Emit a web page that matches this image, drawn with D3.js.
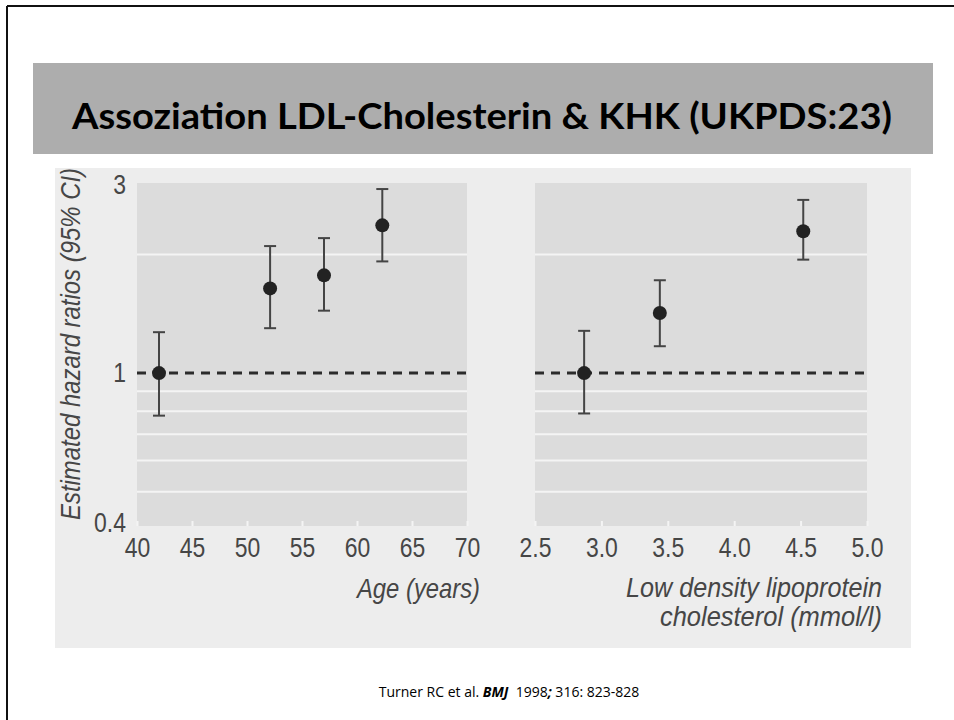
<!DOCTYPE html>
<html>
<head>
<meta charset="utf-8">
<script src="https://cdn.jsdelivr.net/npm/d3@7"></script>
<style>
  html, body { margin: 0; padding: 0; background: #fff; }
  svg { display: block; }
  .scan text { font-family: "Liberation Sans", Arial, sans-serif; fill: #464646; }
</style>
</head>
<body>
<svg id="chart" width="954" height="720"></svg>
<script>
// Age panel: hazard ratio and 95% CI per age group
const ageX = [42, 52.1, 57, 62.3];
const ageHR = [1.0, 1.64, 1.77, 2.37];
const ageLo = [0.78, 1.30, 1.44, 1.92];
const ageHi = [1.27, 2.10, 2.20, 2.93];

// LDL cholesterol panel
const ldlX = [2.87, 3.44, 4.52];
const ldlHR = [1.0, 1.42, 2.29];
const ldlLo = [0.79, 1.17, 1.94];
const ldlHi = [1.28, 1.72, 2.75];

// ticks
const ageTicks = [40, 45, 50, 55, 60, 65, 70];
const ldlTicks = [2.5, 3.0, 3.5, 4.0, 4.5, 5.0];
const yTicks = [0.4, 1, 3];
const gridValues = [0.5, 0.6, 0.7, 0.8, 0.9, 2];

const svg = d3.select("#chart");

// slide frame
svg.append("line").attr("x1", 7).attr("x2", 954).attr("y1", 6).attr("y2", 6)
  .attr("stroke", "#111").attr("stroke-width", 2);
svg.append("line").attr("x1", 7).attr("x2", 7).attr("y1", 6).attr("y2", 720)
  .attr("stroke", "#111").attr("stroke-width", 2);

// title band
svg.append("rect").attr("x", 33).attr("y", 63).attr("width", 900).attr("height", 91)
  .attr("fill", "#adadad");
svg.append("text")
  .attr("x", 482).attr("y", 129)
  .attr("text-anchor", "middle")
  .attr("font-family", "Lato, 'Open Sans', sans-serif")
  .attr("font-weight", 700)
  .attr("font-size", 36)
  .attr("textLength", 820)
  .attr("lengthAdjust", "spacingAndGlyphs")
  .attr("fill", "#000")
  .text("Assoziation LDL-Cholesterin & KHK (UKPDS:23)");

// scanned figure background
const scan = svg.append("g").attr("class", "scan");
scan.append("rect").attr("x", 55).attr("y", 168).attr("width", 856).attr("height", 480)
  .attr("fill", "#ededed");

const y = d3.scaleLog().domain([0.4, 3]).range([530, 185]);
const xAge = d3.scaleLinear().domain([40, 70]).range([137, 467]);
const xLdl = d3.scaleLinear().domain([2.5, 5]).range([535, 867]);

function panel(x, ticks, fmt, xs, hr, lo, hi) {
  const g = scan.append("g");
  const [x0, x1] = x.range();
  const top = y(3) - 2, bottom = y(0.4) - 4;

  g.append("rect").attr("x", x0).attr("y", top)
    .attr("width", x1 - x0).attr("height", bottom - top)
    .attr("fill", "#dcdcdc");

  // white grid lines
  g.selectAll(".grid").data(gridValues).join("line")
    .attr("x1", x0).attr("x2", x1)
    .attr("y1", d => y(d)).attr("y2", d => y(d))
    .attr("stroke", "#f4f4f4").attr("stroke-width", 2);

  // reference line at HR = 1
  g.append("line").attr("x1", x0).attr("x2", x1)
    .attr("y1", y(1)).attr("y2", y(1))
    .attr("stroke", "#2b2b2b").attr("stroke-width", 3)
    .attr("stroke-dasharray", "9,7");

  // x axis
  const ax = g.append("g")
    .attr("transform", "translate(0," + bottom + ")")
    .call(d3.axisBottom(x).tickValues(ticks).tickFormat(fmt)
      .tickSizeInner(-5).tickSizeOuter(0).tickPadding(11));
  ax.select(".domain").remove();
  ax.selectAll("line").attr("stroke", "#f4f4f4").attr("stroke-width", 2);
  ax.selectAll("text")
    .attr("font-size", 28)
    .attr("font-family", "'Liberation Sans', Arial, sans-serif")
    .attr("fill", "#464646")
    .attr("transform", "scale(0.82,1)");

  const data = xs.map((v, i) => ({ x: v, hr: hr[i], lo: lo[i], hi: hi[i] }));

  // error bars
  g.selectAll(".ci").data(data).join("line")
    .attr("x1", d => x(d.x)).attr("x2", d => x(d.x))
    .attr("y1", d => y(d.lo)).attr("y2", d => y(d.hi))
    .attr("stroke", "#444").attr("stroke-width", 2);
  g.selectAll(".capHi").data(data).join("line")
    .attr("x1", d => x(d.x) - 6).attr("x2", d => x(d.x) + 6)
    .attr("y1", d => y(d.hi)).attr("y2", d => y(d.hi))
    .attr("stroke", "#444").attr("stroke-width", 2);
  g.selectAll(".capLo").data(data).join("line")
    .attr("x1", d => x(d.x) - 6).attr("x2", d => x(d.x) + 6)
    .attr("y1", d => y(d.lo)).attr("y2", d => y(d.lo))
    .attr("stroke", "#444").attr("stroke-width", 2);

  g.selectAll("circle").data(data).join("circle")
    .attr("cx", d => x(d.x)).attr("cy", d => y(d.hr))
    .attr("r", 7).attr("fill", "#222");
  return g;
}

panel(xAge, ageTicks, d3.format("d"), ageX, ageHR, ageLo, ageHi);
panel(xLdl, ldlTicks, d3.format(".1f"), ldlX, ldlHR, ldlLo, ldlHi);

// y axis (left panel only)
const ay = scan.append("g")
  .attr("transform", "translate(" + xAge.range()[0] + ",0)")
  .call(d3.axisLeft(y).tickValues(yTicks).tickFormat(d => String(d))
    .tickSize(0).tickPadding(11));
ay.select(".domain").remove();
ay.selectAll("text")
  .attr("font-size", 28)
  .attr("font-family", "'Liberation Sans', Arial, sans-serif")
  .attr("fill", "#464646")
  .attr("transform", "scale(0.82,1)")
  .attr("x", -11 / 0.82)
  // the bottom label sits a little above its line in the original
  .attr("dy", d => d === 0.4 ? "0.05em" : "0.3em");

// axis titles
scan.append("text")
  .attr("transform", "translate(80,344) rotate(-90)")
  .attr("text-anchor", "middle")
  .attr("font-style", "italic")
  .attr("font-size", 28)
  .attr("textLength", 352)
  .attr("lengthAdjust", "spacingAndGlyphs")
  .text("Estimated hazard ratios (95% CI)");

scan.append("text")
  .attr("x", 480).attr("y", 598)
  .attr("text-anchor", "end")
  .attr("font-style", "italic")
  .attr("font-size", 28)
  .attr("textLength", 123)
  .attr("lengthAdjust", "spacingAndGlyphs")
  .text("Age (years)");

scan.append("text")
  .attr("x", 882).attr("y", 597)
  .attr("text-anchor", "end")
  .attr("font-style", "italic")
  .attr("font-size", 28)
  .attr("textLength", 256)
  .attr("lengthAdjust", "spacingAndGlyphs")
  .text("Low density lipoprotein");

scan.append("text")
  .attr("x", 882).attr("y", 626)
  .attr("text-anchor", "end")
  .attr("font-style", "italic")
  .attr("font-size", 28)
  .attr("textLength", 222)
  .attr("lengthAdjust", "spacingAndGlyphs")
  .text("cholesterol (mmol/l)");

// source line
const src = svg.append("text")
  .attr("x", 509).attr("y", 697)
  .attr("text-anchor", "middle")
  .attr("font-family", "'Open Sans', sans-serif")
  .attr("font-size", 14)
  .attr("fill", "#000")
  .style("white-space", "pre");
src.append("tspan").text("Turner RC et al. ");
src.append("tspan").attr("font-weight", 700).attr("font-style", "italic").text("BMJ");
src.append("tspan").text("  1998");
src.append("tspan").attr("font-weight", 700).attr("font-style", "italic").text(";");
src.append("tspan").text(" 316: 823-828");
</script>
</body>
</html>
